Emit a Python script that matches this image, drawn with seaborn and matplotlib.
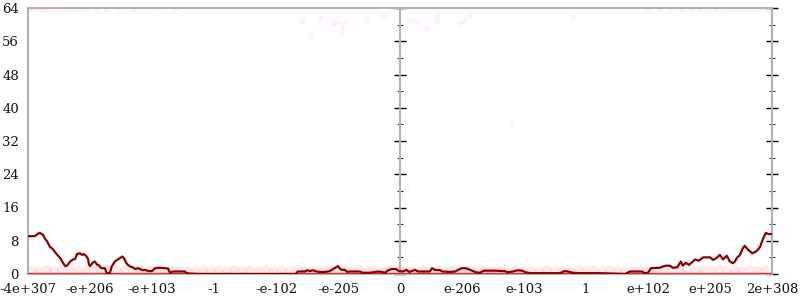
import matplotlib
matplotlib.use("Agg")
import matplotlib.pyplot as plt
from matplotlib.ticker import MultipleLocator
import seaborn as sns
import pandas as pd

# ---- data (x in label-slot units: 0 = "-4e+307" ... 12 = "2e+308") ----
tick_labels = ["-4e+307", "-e+206", "-e+103", "-1", "-e-102", "-e-205", "0",
               "e-206", "e-103", "1", "e+102", "e+205", "2e+308"]

line_x = [0.00, 0.11, 0.15, 0.19, 0.24, 0.27, 0.31, 0.35, 0.40, 0.44, 0.48, 0.52,
          0.56, 0.60, 0.63, 0.68, 0.73, 0.76, 0.79, 0.84, 0.87, 0.90, 0.94, 0.97,
          0.98, 1.00, 1.05, 1.08, 1.11, 1.15, 1.18, 1.24, 1.27, 1.32, 1.35, 1.40,
          1.45, 1.48, 1.52, 1.55, 1.58, 1.61, 1.65, 1.69, 1.73, 1.77, 1.81, 1.85,
          1.89, 1.94, 2.00, 2.05, 2.13, 2.21, 2.26, 2.29, 2.34, 2.45, 2.53, 2.56,
          2.61, 2.77, 3.58, 4.32, 4.35, 4.47, 4.50, 4.55, 4.60, 4.65, 4.71, 4.79,
          4.87, 4.92, 4.97, 5.00, 5.03, 5.06, 5.11, 5.15, 5.19, 5.35, 5.40, 5.52,
          5.60, 5.65, 5.71, 5.76, 5.81, 5.87, 5.94, 5.98, 6.05, 6.10, 6.15, 6.19,
          6.24, 6.29, 6.40, 6.48, 6.52, 6.56, 6.65, 6.68, 6.81, 6.89, 6.94, 7.00,
          7.05, 7.10, 7.16, 7.23, 7.29, 7.35, 7.53, 7.69, 7.74, 7.82, 7.90, 7.97,
          8.03, 8.10, 8.58, 8.65, 8.71, 8.79, 8.90, 9.23, 9.63, 9.71, 9.90, 9.95,
          10.00, 10.05, 10.19, 10.24, 10.29, 10.35, 10.40, 10.47, 10.53, 10.56,
          10.61, 10.66, 10.71, 10.76, 10.82, 10.89, 11.00, 11.05, 11.10, 11.16,
          11.21, 11.27, 11.32, 11.37, 11.40, 11.44, 11.48, 11.53, 11.56, 11.61,
          11.68, 11.73, 11.77, 11.81, 11.85, 11.90, 11.94, 12.00]
line_y = [9.1, 9.1, 9.6, 9.9, 9.5, 8.6, 7.8, 6.6, 6.0, 5.2, 4.5, 3.8,
          2.8, 1.9, 2.0, 3.0, 3.5, 3.6, 4.8, 5.0, 4.6, 4.8, 4.3, 3.6,
          2.5, 1.9, 2.8, 3.0, 2.3, 2.0, 1.4, 1.4, 0.2, 0.2, 1.8, 3.0,
          3.5, 3.8, 4.2, 3.8, 2.8, 2.2, 1.8, 1.6, 1.2, 1.4, 1.2, 0.9,
          1.0, 0.7, 0.7, 1.4, 1.5, 1.4, 1.3, 0.3, 0.6, 0.6, 0.6, 0.2,
          0.1, 0.0, 0.0, 0.0, 0.6, 0.6, 0.9, 0.7, 0.9, 0.6, 0.5, 0.5,
          0.7, 1.2, 1.6, 1.9, 1.3, 1.0, 1.0, 0.5, 0.6, 0.6, 0.3, 0.3,
          0.5, 0.6, 0.5, 0.3, 0.9, 1.2, 1.2, 0.7, 0.6, 1.0, 0.5, 0.7,
          1.0, 0.6, 0.6, 0.6, 1.4, 1.0, 0.9, 0.6, 0.5, 0.6, 1.0, 1.4,
          1.4, 1.2, 0.8, 0.4, 0.3, 0.8, 0.8, 0.7, 0.4, 0.6, 0.9, 0.8,
          0.4, 0.2, 0.2, 0.7, 0.6, 0.3, 0.2, 0.2, 0.0, 0.6, 0.6, 0.2,
          0.3, 1.4, 1.5, 1.8, 2.0, 2.0, 1.5, 1.6, 3.0, 2.0,
          2.7, 2.2, 2.8, 3.5, 3.2, 4.0, 4.0, 3.4, 3.8, 4.6,
          3.5, 4.4, 3.0, 2.6, 3.0, 4.0, 4.5, 6.2, 6.8, 5.9,
          5.0, 5.3, 5.8, 6.6, 8.3, 9.9, 9.6, 9.6]

# faint sample points near the bottom (value ~1)
low_x = [0.05, 0.18, 0.31, 0.42, 0.55, 0.68, 0.80, 0.93, 1.06, 1.17, 1.30, 1.44,
         1.56, 1.69, 1.81, 1.95, 2.07, 2.19, 2.32, 2.44, 2.58, 2.70, 2.83, 2.95,
         3.08, 3.21, 3.33, 3.46, 3.58, 3.71, 3.84, 3.96, 4.09, 4.21, 4.34, 4.47,
         4.59, 4.72, 4.85, 4.97, 5.10, 5.22, 5.35, 5.48, 5.60, 5.73, 5.85, 5.98,
         6.10, 6.23, 6.36, 6.48, 6.61, 6.73, 6.86, 6.99, 7.11, 7.24, 7.36, 7.49,
         7.62, 7.74, 7.87, 7.99, 8.12, 8.25, 8.37, 8.50, 8.62, 8.75, 8.88, 9.00,
         9.13, 9.26, 9.38, 9.51, 9.63, 9.76, 9.89, 10.01, 10.14, 10.26, 10.39,
         10.52, 10.64, 10.77, 10.89, 11.02, 11.15, 11.27, 11.40, 11.52, 11.65,
         11.78, 11.90]
low_y = [0.9, 0.7, 1.0, 0.8, 0.9, 0.7, 1.0, 0.8, 0.9, 0.7, 1.0, 0.8,
         0.9, 0.7, 1.0, 0.8, 0.9, 0.7, 1.0, 0.8, 0.9, 0.7, 1.0, 0.8,
         0.9, 0.7, 1.0, 0.8, 0.9, 0.7, 1.0, 0.8, 0.9, 0.7, 1.0, 0.8,
         0.9, 0.7, 1.0, 0.8, 0.9, 0.7, 1.0, 0.8, 0.9, 0.7, 1.0, 0.8,
         0.9, 0.7, 1.0, 0.8, 0.9, 0.7, 1.0, 0.8, 0.9, 0.7, 1.0, 0.8,
         0.9, 0.7, 1.0, 0.8, 0.9, 0.7, 1.0, 0.8, 0.9, 0.7, 1.0, 0.8,
         0.9, 0.7, 1.0, 0.8, 0.9, 0.7, 1.0, 0.8, 0.9, 0.7, 1.0,
         0.8, 0.9, 0.7, 1.0, 0.8, 0.9, 0.7, 1.0, 0.8, 0.9,
         0.7, 1.0]

# faint sample points near the top / scattered high values
high_x = [0.03, 0.10, 0.17, 0.24, 0.30, 0.37, 0.44, 0.52, 0.60, 0.70, 0.82,
          0.95, 1.10, 1.27, 1.45, 1.70, 2.05, 2.40,
          4.44, 4.56, 4.73, 4.92, 4.97, 5.08, 5.08, 5.48, 5.73, 5.95, 5.95, 6.13,
          6.18, 6.27, 6.44, 6.60, 6.61, 6.97, 7.05, 7.13, 7.81, 8.80,
          10.00, 10.20, 10.40, 10.55, 10.70, 10.85, 10.98, 11.10, 11.22, 11.34,
          11.45, 11.56, 11.66, 11.76, 11.86, 11.95]
high_y = [63.8, 63.7, 63.8, 63.7, 63.8, 63.7, 63.8, 63.7, 63.8, 63.7, 63.8,
          63.7, 63.8, 63.7, 63.8, 63.7, 63.8, 63.7,
          60.9, 57.3, 61.3, 60.3, 60.6, 60.1, 58.5, 61.1, 62.2, 58.9, 22.2, 20.8,
          61.0, 60.6, 58.9, 60.9, 62.3, 60.2, 61.0, 62.3, 35.9, 61.5,
          63.8, 63.7, 63.8, 63.7, 63.8, 63.7, 63.8, 63.7, 63.8, 63.7,
          63.8, 63.7, 63.8, 63.7, 63.8, 63.7]

line_df = pd.DataFrame({"x": line_x, "y": line_y})
low_df = pd.DataFrame({"x": low_x, "y": low_y})
high_df = pd.DataFrame({"x": high_x, "y": high_y})

# ---- figure ----
sns.set_style("white")
plt.rcParams["font.family"] = ["DejaVu Serif", "DejaVu Sans"]

fig = plt.figure(figsize=(8, 3), dpi=100)
ax = fig.add_axes([28 / 800, 1 - 274 / 300, 744 / 800, 266 / 300])

grey = "#b3b3b3"
dot_color = "#ff5a5a"

sns.scatterplot(data=low_df, x="x", y="y", ax=ax, color=dot_color, alpha=0.13,
                s=45, edgecolor="none", legend=False, zorder=2)
sns.scatterplot(data=high_df, x="x", y="y", ax=ax, color=dot_color, alpha=0.06,
                s=28, edgecolor="none", legend=False, zorder=2)
ax.axhline(0, color="#dd2c2c", lw=2.4, zorder=3)
sns.lineplot(data=line_df, x="x", y="y", ax=ax, color="#8b0000", lw=1.6,
             sort=False, zorder=4)

ax.set_xlim(0, 12)
ax.set_ylim(0, 64)
ax.set_xlabel("")
ax.set_ylabel("")

for side in ["left", "right", "top", "bottom"]:
    ax.spines[side].set_visible(True)
    ax.spines[side].set_color(grey)
    ax.spines[side].set_linewidth(1.5)

ax.set_xticks(range(13))
ax.set_xticklabels(tick_labels)
ax.yaxis.set_major_locator(MultipleLocator(8))
ax.yaxis.set_minor_locator(MultipleLocator(4))
ax.tick_params(axis="both", which="major", direction="inout", length=9,
               width=1.0, color="black", labelsize=9.5, pad=2,
               labelcolor="#111111")
ax.tick_params(axis="y", which="minor", direction="inout", length=4.5,
               width=0.8, color="#333333")

for loc in [0.5, 1.0]:
    sec = ax.secondary_yaxis(loc)
    sec.yaxis.set_major_locator(MultipleLocator(8))
    sec.yaxis.set_minor_locator(MultipleLocator(4))
    sec.tick_params(axis="y", which="major", direction="inout", length=9,
                    width=1.0, color="black", labelleft=False, labelright=False)
    sec.tick_params(axis="y", which="minor", direction="inout", length=4.5,
                    width=0.8, color="#333333")
    for side in sec.spines:
        sec.spines[side].set_color(grey)
        sec.spines[side].set_linewidth(1.5)

fig.savefig("out.png", dpi=100)
